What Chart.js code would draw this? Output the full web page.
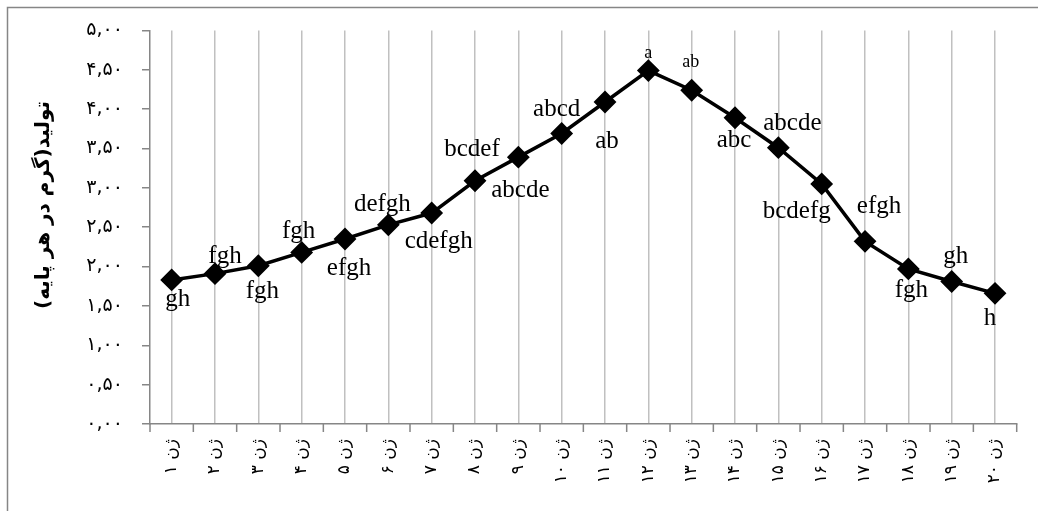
<!DOCTYPE html>
<html>
<head>
<meta charset="utf-8">
<script src="https://cdn.jsdelivr.net/npm/chart.js@4"></script>
<style>
  html, body { margin: 0; padding: 0; background: #fff; }
  #wrap { width: 1038px; height: 511px; position: relative; }
</style>
</head>
<body>
<div id="wrap"><canvas id="yield-chart"></canvas></div>
<script>
// data
const genotypes = ["ژن ۱", "ژن ۲", "ژن ۳", "ژن ۴", "ژن ۵", "ژن ۶", "ژن ۷", "ژن ۸", "ژن ۹", "ژن ۱۰",
  "ژن ۱۱", "ژن ۱۲", "ژن ۱۳", "ژن ۱۴", "ژن ۱۵", "ژن ۱۶", "ژن ۱۷", "ژن ۱۸", "ژن ۱۹", "ژن ۲۰"];
const yieldValues = [1.83, 1.91, 2.01, 2.18, 2.35, 2.53, 2.68, 3.09, 3.39, 3.69,
  4.09, 4.49, 4.24, 3.89, 3.51, 3.05, 2.32, 1.97, 1.81, 1.66];
const groupLetters = ["gh", "fgh", "fgh", "fgh", "efgh", "defgh", "cdefgh", "bcdef", "abcde", "abcd",
  "ab", "a", "ab", "abc", "abcde", "bcdefg", "efgh", "fgh", "gh", "h"];
const yTickLabels = ["۰,۰۰", "۰,۵۰", "۱,۰۰", "۱,۵۰", "۲,۰۰", "۲,۵۰", "۳,۰۰", "۳,۵۰", "۴,۰۰", "۴,۵۰", "۵,۰۰"];
const yTitle = "تولید(گرم در هر پایه)";

// label placement (dx, dy from the marker, baseline)
const letterOffsets = [[6, 26], [10, -11], [4, 32], [-3, -14], [4, 36], [-6, -14], [7, 35], [-3, -25], [2, 40], [-5, -18],
  [2, 46], [0, -13], [-1, -23], [-1, 29], [14, -18], [-25, 34], [14, -28], [3, 28], [4, -19], [-5, 32]];
const smallLetters = [11, 12];

const axisGrey = "#868686";

// frame, x boundary ticks, letters, y title
const extras = {
  id: "extras",
  beforeDraw(chart) {
    const ctx = chart.ctx;
    ctx.save();
    ctx.strokeStyle = axisGrey;
    ctx.lineWidth = 1.5;
    ctx.beginPath();
    ctx.moveTo(7.5, chart.height);
    ctx.lineTo(7.5, 7.5);
    ctx.lineTo(chart.width, 7.5);
    ctx.stroke();
    ctx.restore();
  },
  afterDraw(chart) {
    const ctx = chart.ctx;
    const x = chart.scales.x;
    const y = chart.scales.y;
    const area = chart.chartArea;
    ctx.save();
    // boundary ticks
    ctx.strokeStyle = axisGrey;
    ctx.lineWidth = 1.5;
    const step = x.width / genotypes.length;
    ctx.beginPath();
    for (let i = 0; i <= genotypes.length; i++) {
      const px = x.left + i * step;
      ctx.moveTo(px, area.bottom);
      ctx.lineTo(px, area.bottom + 8);
    }
    ctx.stroke();

    // letters
    ctx.fillStyle = "#000";
    ctx.textAlign = "center";
    ctx.textBaseline = "alphabetic";
    groupLetters.forEach((txt, i) => {
      const px = x.getPixelForValue(i);
      const py = y.getPixelForValue(yieldValues[i]);
      const off = letterOffsets[i];
      ctx.font = (smallLetters.includes(i) ? "18px" : "25px") + " 'Liberation Serif', 'Times New Roman', serif";
      ctx.fillText(txt, px + off[0], py + off[1]);
    });

    // y title
    ctx.translate(44, 205);
    ctx.rotate(-Math.PI / 2);
    ctx.direction = "rtl";
    ctx.textAlign = "center";
    ctx.textBaseline = "middle";
    ctx.font = "bold 20px 'DejaVu Sans', sans-serif";
    ctx.fillText(yTitle, 0, 0);
    ctx.restore();
  },
};

const yieldChart = new Chart(document.getElementById("yield-chart"), {
  type: "line",
  data: {
    labels: genotypes,
    datasets: [
      {
        label: "yield",
        data: yieldValues,
        borderColor: "#000",
        backgroundColor: "#000",
        borderWidth: 3.5,
        pointStyle: "rectRot",
        pointRadius: 10,
        pointBorderWidth: 2,
        pointBackgroundColor: "#000",
        pointBorderColor: "#000",
        tension: 0,
      },
    ],
  },
  options: {
    responsive: true,
    maintainAspectRatio: false,
    animation: false,
    layout: { padding: { top: 29.5, right: 21.3, left: 0, bottom: 0 } },
    plugins: { legend: { display: false }, tooltip: { enabled: false } },
    scales: {
      x: {
        offset: true,
        grid: { offset: false, color: "#c0c0c0", lineWidth: 1.5, drawTicks: false },
        border: { color: axisGrey, width: 1.5 },
        ticks: {
          autoSkip: false,
          minRotation: 90,
          maxRotation: 90,
          padding: 15,
          color: "#000",
          font: { family: "'DejaVu Sans', sans-serif", size: 17 },
        },
        afterFit: (scale) => { scale.height = 87; },
      },
      y: {
        min: 0,
        max: 5,
        grid: { drawOnChartArea: false, drawTicks: true, tickLength: 8, color: axisGrey, lineWidth: 1.5 },
        border: { color: axisGrey, width: 1.5 },
        ticks: {
          stepSize: 0.5,
          padding: 19,
          color: "#000",
          font: { family: "'DejaVu Sans', sans-serif", size: 19 },
          callback: (value) => yTickLabels[Math.round(value * 2)],
        },
        afterFit: (scale) => { scale.width = 150; },
      },
    },
  },
  plugins: [extras],
});
</script>
</body>
</html>
